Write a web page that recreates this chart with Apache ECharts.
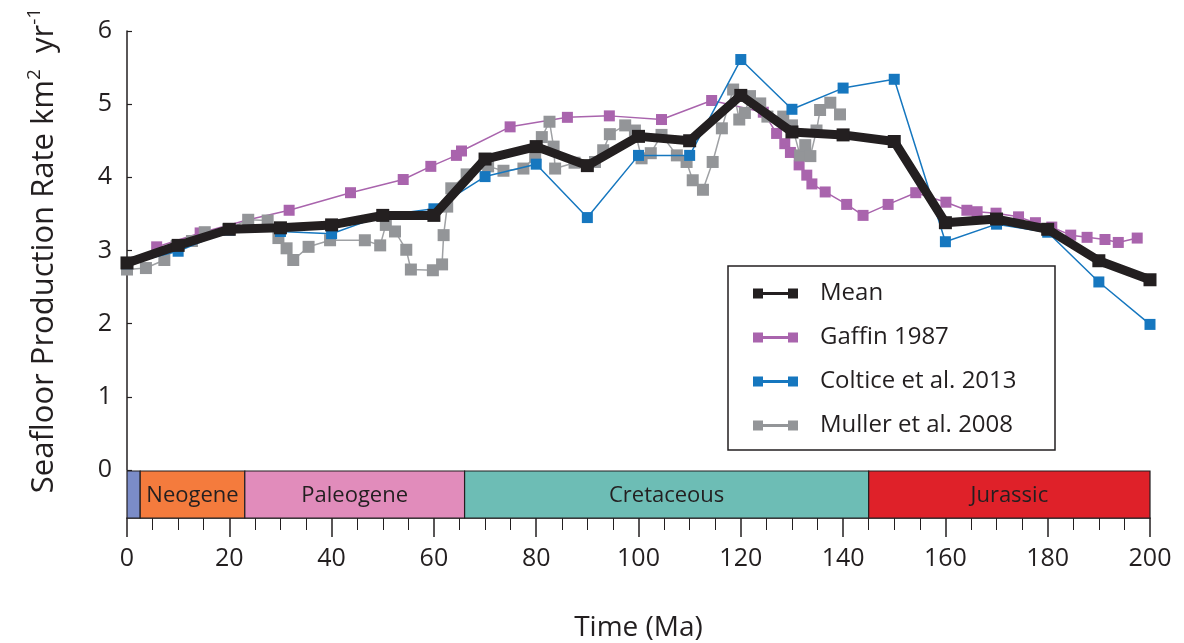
<!DOCTYPE html>
<html>
<head>
<meta charset="utf-8">
<script src="https://cdn.jsdelivr.net/npm/echarts@6/dist/echarts.min.js"></script>
<style>
html,body{margin:0;padding:0;background:#fff;}
#chart{width:1184px;height:643px;}
</style>
</head>
<body>
<div id="chart"></div>
<script>
// ---------- data ----------
const meanAge  = [0,10,20,30,40,50,60,70,80,90,100,110,120,130,140,150,160,170,180,190,200];
const meanRate = [2.83,3.07,3.29,3.31,3.35,3.48,3.48,4.25,4.42,4.16,4.56,4.50,5.12,4.62,4.58,4.49,3.38,3.43,3.29,2.86,2.60];

const colticeAge  = [0,10,20,30,40,50,60,70,80,90,100,110,120,130,140,150,160,170,180,190,200];
const colticeRate = [2.82,2.99,3.28,3.26,3.23,3.48,3.57,4.01,4.18,3.45,4.30,4.30,5.61,4.93,5.22,5.34,3.12,3.36,3.25,2.57,1.99];

const gaffinAge  = [5.8,14.3,23.7,31.7,43.7,54.0,59.4,64.4,65.4,74.9,86.1,94.3,104.5,114.3,124.4,127.0,128.6,129.7,131.4,132.9,133.9,136.5,140.7,143.9,148.8,154.2,160.1,164.2,166.2,169.9,174.3,177.6,180.8,184.5,187.7,191.2,193.8,197.5];
const gaffinRate = [3.05,3.24,3.42,3.55,3.79,3.97,4.15,4.30,4.36,4.69,4.82,4.84,4.79,5.05,4.89,4.60,4.46,4.34,4.17,4.03,3.91,3.80,3.63,3.48,3.63,3.79,3.66,3.55,3.53,3.51,3.46,3.38,3.32,3.21,3.18,3.15,3.11,3.17];

const mullerAge  = [0,3.7,7.3,9.7,12.7,15.2,19.8,23.7,27.5,29.6,31.2,32.5,35.5,39.7,46.5,49.5,50.6,52.4,54.6,55.5,59.8,61.6,61.9,62.6,63.4,66.4,70.6,73.6,77.5,79.8,81.1,82.6,83.4,83.7,87.5,91.5,93.1,94.4,97.4,99.3,100.6,102.4,104.5,107.5,109.4,110.6,112.6,114.5,116.3,118.5,119.7,120.8,121.8,123.8,125.2,128.3,130.0,131.6,132.6,133.6,134.8,135.5,137.5,139.4];
const mullerRate = [2.74,2.76,2.87,3.06,3.13,3.25,3.29,3.42,3.41,3.17,3.03,2.87,3.05,3.14,3.14,3.07,3.35,3.26,3.01,2.74,2.73,2.81,3.21,3.60,3.85,4.04,4.15,4.09,4.12,4.28,4.55,4.76,4.42,4.12,4.20,4.21,4.37,4.59,4.71,4.64,4.26,4.33,4.58,4.30,4.21,3.96,3.83,4.21,4.67,5.20,4.79,4.88,5.11,5.01,4.83,4.83,4.71,4.30,4.44,4.29,4.64,4.92,5.02,4.86];

const periodNames = ['', 'Neogene', 'Paleogene', 'Cretaceous', 'Jurassic'];
const periodStart = [0, 2.58, 23.03, 66.0, 145.0];
const periodEnd   = [2.58, 23.03, 66.0, 145.0, 201.3];

const xTicks = [0,20,40,60,80,100,120,140,160,180,200];
const yTicks = [0,1,2,3,4,5,6];

// ---------- styles ----------
const FONT = 'Open Sans';
const INK = '#231f20';
const periodColors = ['#7b8cc8', '#f47b3d', '#e18cbb', '#6dbdb5', '#df2129'];
const C = { mean: '#231f20', gaffin: '#a964ad', coltice: '#1677bf', muller: '#939598' };
const legendIcon = 'path://M0,0h10v10h-10z M35,0h10v10h-10z M10,3.5h25v3h-25z';

const zip = (a, b) => a.map((v, i) => [v, b[i]]);

const chart = echarts.init(document.getElementById('chart'), null, { renderer: 'canvas' });

function renderPeriod(params, api) {
  const i = params.dataIndex;
  const p0 = api.coord([api.value(0), 1]);
  const p1 = api.coord([api.value(1), 0]);
  const cs = params.coordSys;
  const left = Math.max(p0[0], cs.x);
  const right = Math.min(p1[0], cs.x + cs.width);
  return {
    type: 'group',
    children: [
      { type: 'rect', shape: { x: left, y: p0[1], width: right - left, height: p1[1] - p0[1] },
        style: { fill: periodColors[i], stroke: INK, lineWidth: 1.2 } },
      { type: 'text', style: { text: periodNames[i], x: (left + right) / 2, y: (p0[1] + p1[1]) / 2 + 1,
        align: 'center', verticalAlign: 'middle', fontSize: 22, fontFamily: FONT, fill: INK } }
    ]
  };
}

const option = {
  animation: false,
  backgroundColor: '#ffffff',
  textStyle: { fontFamily: FONT, color: INK },
  grid: [
    { left: 127, right: 34, top: 31, height: 439 },
    { left: 127, right: 34, top: 471, height: 49 }
  ],
  xAxis: [
    { gridIndex: 0, type: 'value', min: 0, max: 200, show: false },
    { gridIndex: 1, type: 'value', min: 0, max: 200, interval: 20,
      name: 'Time (Ma)', nameLocation: 'middle', nameGap: 96,
      nameTextStyle: { fontSize: 28, color: INK, fontFamily: FONT },
      axisLine: { show: true, lineStyle: { color: INK, width: 1.5 } },
      axisTick: { show: true, length: 19, lineStyle: { color: INK, width: 1.5 } },
      minorTick: { show: true, splitNumber: 4, length: 12, lineStyle: { color: INK, width: 1 } },
      splitLine: { show: false },
      axisLabel: { fontSize: 25, color: INK, fontFamily: FONT, margin: 28,
        formatter: v => (xTicks.indexOf(v) >= 0 ? String(v) : '') } }
  ],
  yAxis: [
    { gridIndex: 0, type: 'value', min: 0, max: 6, interval: 1,
      name: 'Seafloor Production Rate km{sup|2}  yr{sup|-1}',
      nameLocation: 'middle', nameGap: 64,
      nameTextStyle: { fontSize: 31, color: INK, fontFamily: FONT,
        rich: { sup: { fontSize: 19, color: INK, fontFamily: FONT, verticalAlign: 'top', lineHeight: 38 } } },
      axisLine: { show: true, lineStyle: { color: INK, width: 1.5 } },
      axisTick: { show: true, inside: true, length: 5, lineStyle: { color: INK, width: 1.2 } },
      splitLine: { show: false },
      axisLabel: { fontSize: 25, color: INK, fontFamily: FONT, margin: 15,
        formatter: v => (yTicks.indexOf(v) >= 0 ? String(v) : '') } },
    { gridIndex: 1, type: 'value', min: 0, max: 1, show: false }
  ],
  legend: {
    orient: 'vertical', left: 728, top: 266,
    selectedMode: false,
    backgroundColor: '#ffffff',
    borderColor: INK, borderWidth: 1.5,
    padding: [15, 20, 12, 25],
    itemGap: 19, itemWidth: 45, itemHeight: 10,
    textStyle: { fontSize: 24, color: INK, fontFamily: FONT, padding: [0, 0, 0, 17], width: 215, lineHeight: 25 },
    data: [
      { name: 'Mean', icon: legendIcon },
      { name: 'Gaffin 1987', icon: legendIcon },
      { name: 'Coltice et al. 2013', icon: legendIcon },
      { name: 'Muller et al. 2008', icon: legendIcon }
    ]
  },
  series: [
    { name: 'Gaffin 1987', type: 'line', xAxisIndex: 0, yAxisIndex: 0, data: zip(gaffinAge, gaffinRate),
      symbol: 'rect', symbolSize: 11, z: 2,
      lineStyle: { color: C.gaffin, width: 1.5 }, itemStyle: { color: C.gaffin } },
    { name: 'Muller et al. 2008', type: 'line', xAxisIndex: 0, yAxisIndex: 0, data: zip(mullerAge, mullerRate),
      symbol: 'rect', symbolSize: 12, z: 3,
      lineStyle: { color: '#9fa1a4', width: 1.5 }, itemStyle: { color: C.muller } },
    { name: 'Coltice et al. 2013', type: 'line', xAxisIndex: 0, yAxisIndex: 0, data: zip(colticeAge, colticeRate),
      symbol: 'rect', symbolSize: 11, z: 4,
      lineStyle: { color: C.coltice, width: 1.5 }, itemStyle: { color: C.coltice } },
    { name: 'Mean', type: 'line', xAxisIndex: 0, yAxisIndex: 0, data: zip(meanAge, meanRate),
      symbol: 'rect', symbolSize: 13, z: 5,
      lineStyle: { color: C.mean, width: 9 }, itemStyle: { color: C.mean } },
    { name: 'periods', type: 'custom', xAxisIndex: 1, yAxisIndex: 1, renderItem: renderPeriod,
      data: zip(periodStart, periodEnd), silent: true, z: 1 }
  ]
};

chart.setOption(option);
</script>
</body>
</html>
